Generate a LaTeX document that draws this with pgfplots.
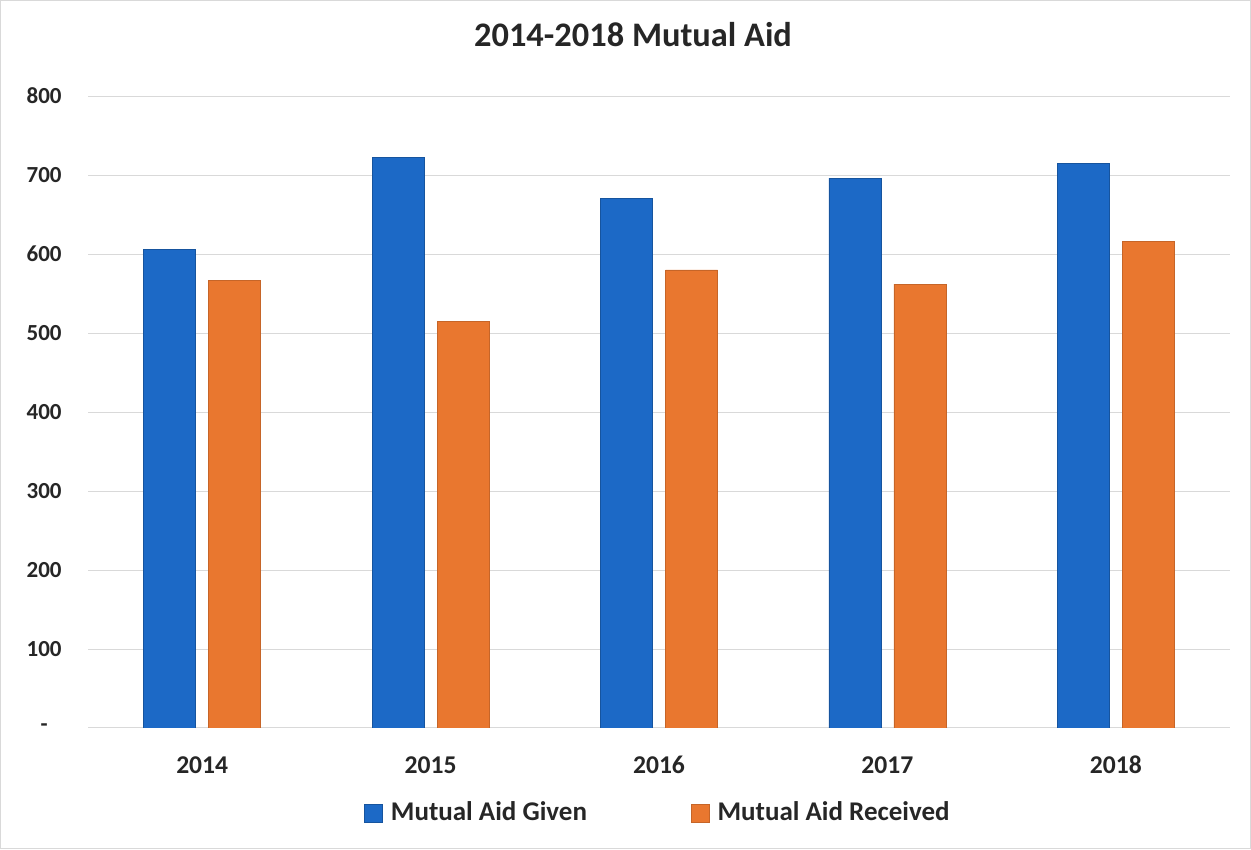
\documentclass[border=0pt]{standalone}
\usepackage{pgfplots}
\pgfplotsset{compat=1.18}
\usepackage{fontspec}
\setmainfont{Carlito}
\definecolor{given}{HTML}{1C69C6}
\definecolor{received}{HTML}{E9772F}
\definecolor{gridc}{HTML}{D9D9D9}
\begin{document}
\begin{tikzpicture}
\path[use as bounding box] (0,0) rectangle (625.5pt,425pt);
\draw[gridc, line width=0.6pt] (0.3pt,0.6pt) rectangle (625.2pt,424.7pt);
\begin{axis}[
  at={(44pt,61pt)}, anchor=south west,
  scale only axis, width=571pt, height=316pt,
  ybar=6.5pt, bar width=26pt,
  xmin=-0.5, xmax=4.5, ymin=0, ymax=800,
  xtick=data, xticklabels={2014,2015,2016,2017,2018},
  ytick={0,100,...,800},
  yticklabels={{-\rule{7pt}{0pt}},100,200,300,400,500,600,700,800},
  axis line style={draw=none},
  major tick length=0pt,
  ymajorgrids, major grid style={gridc, line width=0.5pt},
  xticklabel style={font=\fontsize{12.8pt}{14pt}\selectfont\bfseries\color{black!85}, anchor=center, yshift=-18.5pt},
  yticklabel style={font=\fontsize{11.5pt}{13pt}\selectfont\bfseries\color{black!85}, anchor=east, inner sep=0pt, xshift=-13pt},
  title={2014-2018 Mutual Aid},
  title style={font=\fontsize{17.2pt}{20pt}\selectfont\bfseries\color{black!85}, at={(0.5,1)}, anchor=center, yshift=24.5pt, xshift=-13pt},
  legend columns=2,
  legend style={at={(0.5,0)}, anchor=center, yshift=-42.5pt, xshift=0pt, draw=none, fill=none,
    font=\fontsize{13.5pt}{15pt}\selectfont\bfseries\color{black!85},
    /tikz/every even column/.append style={column sep=50pt},
    /tikz/every odd column/.append style={column sep=0pt}},
  legend image code/.code={\fill[#1] (0pt,-4.5pt) rectangle (9pt,4.5pt);},
  legend cell align=left,
]
\addplot[fill=given, draw=given!80!black, line width=0.3pt] coordinates {(0,606) (1,722) (2,670) (3,696) (4,715)};
\addplot[fill=received, draw=received!85!black, line width=0.3pt] coordinates {(0,567) (1,515) (2,580) (3,562) (4,616)};
\legend{\hspace{2pt}Mutual Aid Given, \hspace{2pt}Mutual Aid Received}
\end{axis}
\end{tikzpicture}
\end{document}
